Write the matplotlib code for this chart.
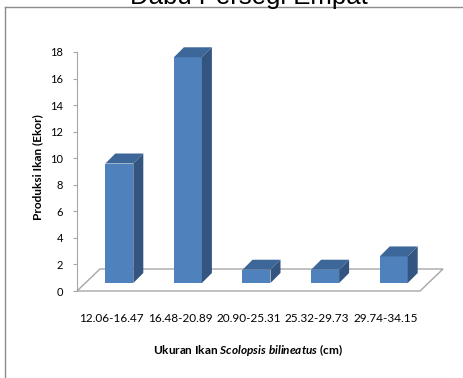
import numpy as np
import matplotlib.pyplot as plt
from matplotlib.patches import Polygon
from matplotlib.lines import Line2D

# data
size_classes = ["12.06-16.47", "16.48-20.89", "20.90-25.31", "25.32-29.73", "29.74-34.15"]
fish_counts = [9, 17, 1, 1, 2]
y_ticks = np.arange(0, 19, 2)

plt.rcParams['font.family'] = ['Lato', 'DejaVu Sans']
plt.rcParams['mathtext.fontset'] = 'custom'
plt.rcParams['mathtext.rm'] = 'Lato:bold'
plt.rcParams['mathtext.it'] = 'Lato:bold:italic'

W, H = 464, 378
fig = plt.figure(figsize=(W / 100, H / 100), dpi=100)

# axes placed in pixels: value 0 at y=291, 18 at y=52, category -0.5 at x=77
left, right, bottom, top = 77, 445, 291, 52
ax = fig.add_axes([left / W, (H - bottom) / H, (right - left) / W, (bottom - top) / H])
px_x = 1 / 68.6          # category units per pixel
px_y = 18 / (bottom - top)
ax.set_xlim(-0.5, -0.5 + (right - left) * px_x)
ax.set_ylim(0, 18)

# 3d offsets
floor_dx, floor_dy = 23 * px_x, 22 * px_y
front_dx, front_dy = 8 * px_x, 8 * px_y
bar_dx, bar_dy = 10 * px_x, 10 * px_y
bar_w = 28 * px_x

front_col = '#4f81bd'
side_col = '#34557f'
top_col = '#3e6799'
grey = '#a6a6a6'

# floor
x0, x1 = -0.5, 4.5
floor = Polygon([(x0, 0), (x1, 0), (x1 + floor_dx, floor_dy), (x0 + floor_dx, floor_dy)],
                closed=True, fill=False, edgecolor=grey, lw=1.0, zorder=1, clip_on=False)
ax.add_patch(floor)

xs = np.arange(len(fish_counts))
bx = xs - bar_w / 2 + front_dx
ax.bar(bx, fish_counts, width=bar_w, bottom=front_dy, align='edge',
       color=front_col, zorder=3, clip_on=False)
for xl, v in zip(bx, fish_counts):
    b = front_dy
    t = front_dy + v
    xr = xl + bar_w
    ax.add_patch(Polygon([(xl, t), (xr, t), (xr + bar_dx, t + bar_dy), (xl + bar_dx, t + bar_dy)],
                         closed=True, facecolor=top_col, edgecolor='none', zorder=3, clip_on=False))
    ax.add_patch(Polygon([(xr, b), (xr, t), (xr + bar_dx, t + bar_dy), (xr + bar_dx, b + bar_dy)],
                         closed=True, facecolor=side_col, edgecolor='none', zorder=3, clip_on=False))

for s in ['top', 'right', 'bottom']:
    ax.spines[s].set_visible(False)
ax.spines['left'].set_color(grey)
ax.set_yticks(y_ticks)
ax.tick_params(axis='y', length=3, color=grey, labelsize=8, pad=7)
ax.set_xticks(xs, size_classes)
ax.tick_params(axis='x', length=0, labelsize=8.5, pad=16)
ax.patch.set_visible(False)

fig.text(38 / W, 1 - 167 / H, "Produksi Ikan (Ekor)", rotation=90, ha='center', va='center',
         fontsize=8.5, fontweight='bold')
fig.text(248 / W, 1 - 350 / H, r"Ukuran Ikan $\mathit{Scolopsis\ bilineatus}$ (cm)",
         ha='center', va='center', fontsize=8.5, fontweight='bold')

# frame of the embedded chart and the caption above it, cut by the top edge as in the screenshot
fig.add_artist(Line2D([5 / W, 5 / W], [0, 1 - 7 / H], color='#8c8c8c', lw=1))
fig.add_artist(Line2D([5 / W, 1], [1 - 7 / H, 1 - 7 / H], color='#8c8c8c', lw=1))
fig.text(249 / W, 1 - 4 / H, "Dabu Persegi Empat", ha='center', va='baseline',
         fontsize=18.5, family='Liberation Sans')

fig.savefig("out.png", dpi=100)
